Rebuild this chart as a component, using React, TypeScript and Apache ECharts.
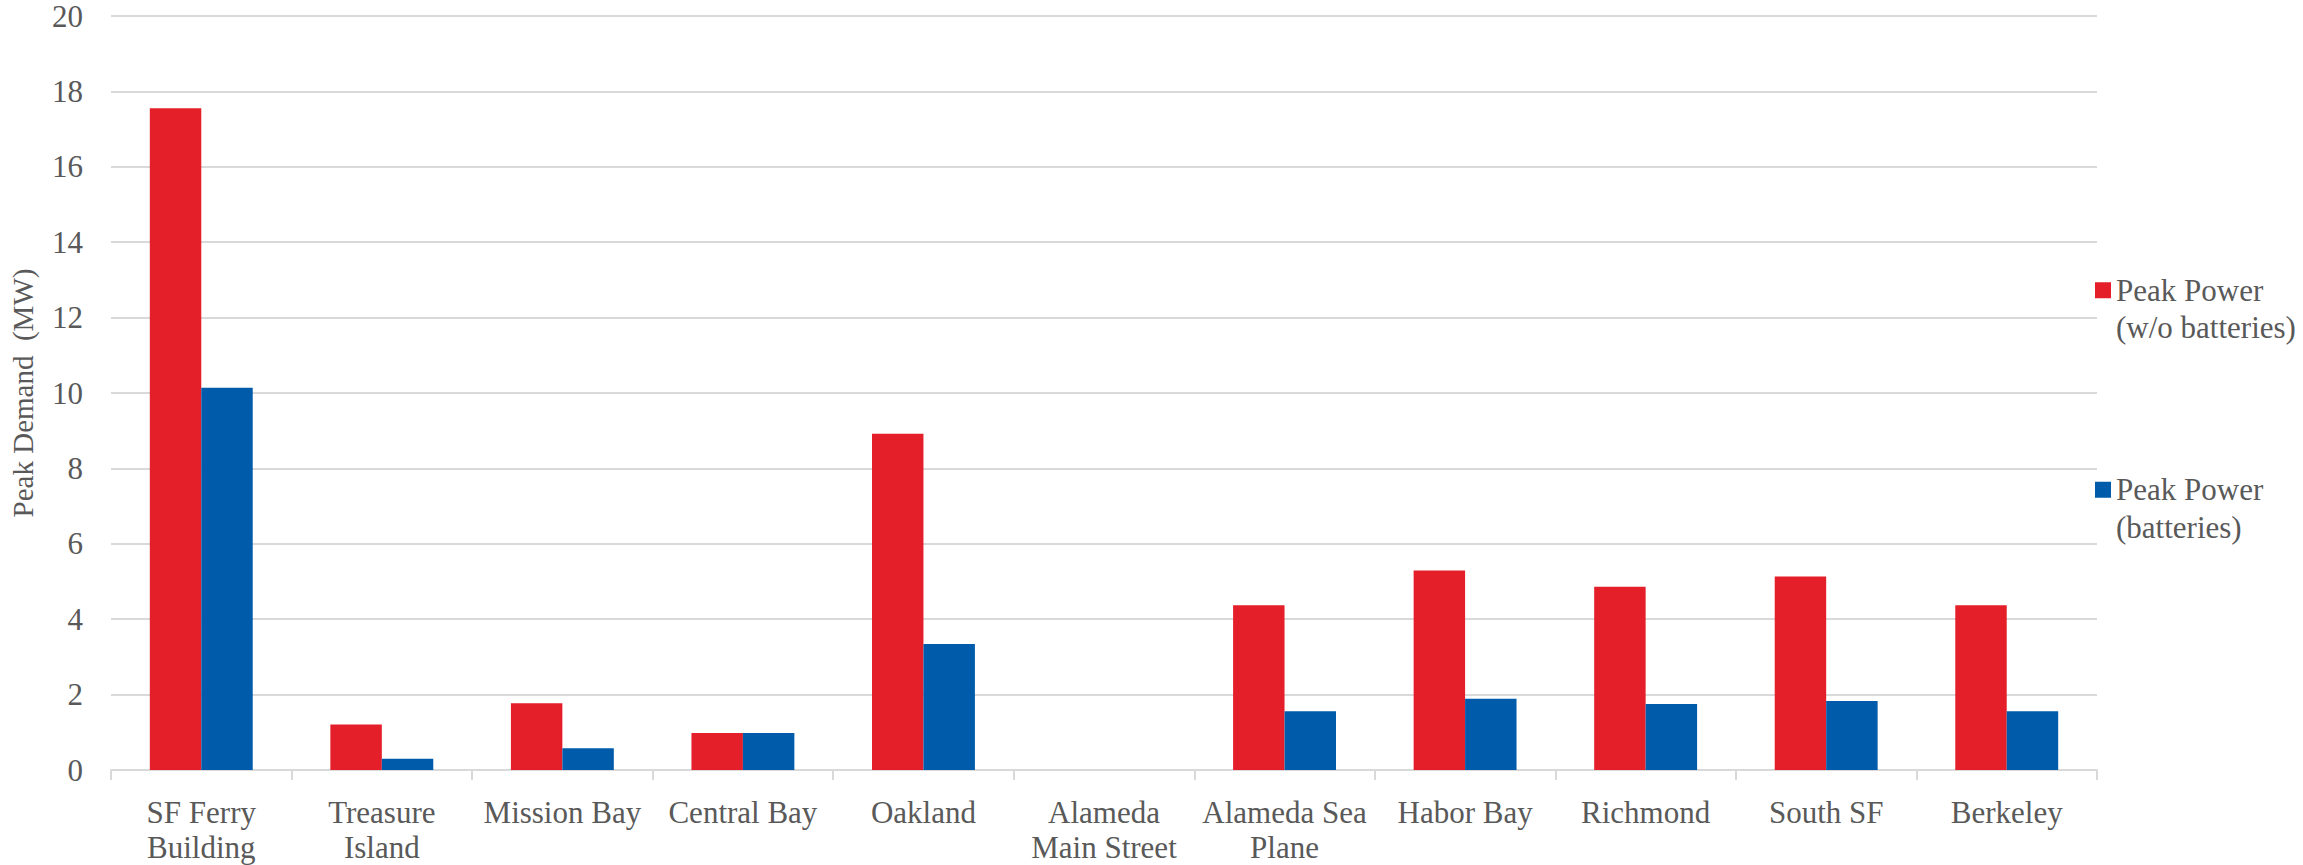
import React, { useEffect, useRef } from "react";
import * as echarts from "echarts";

const categories = [
  "SF Ferry\nBuilding",
  "Treasure\nIsland",
  "Mission Bay",
  "Central Bay",
  "Oakland",
  "Alameda\nMain Street",
  "Alameda Sea\nPlane",
  "Habor Bay",
  "Richmond",
  "South SF",
  "Berkeley",
];

const withoutBatteries = [17.55, 1.21, 1.77, 0.98, 8.92, 0, 4.37, 5.29, 4.86, 5.13, 4.37];
const withBatteries = [10.14, 0.3, 0.58, 0.98, 3.34, 0, 1.56, 1.89, 1.75, 1.83, 1.56];

const seriesNames = ["Peak Power\n(w/o batteries)", "Peak Power\n(batteries)"];
const yAxisTitle = "Peak Demand  (MW)";

const FONT = "'Liberation Serif', 'Times New Roman', serif";
const TEXT = "#595959";

export default function App() {
  const ref = useRef<HTMLDivElement>(null);
  useEffect(() => {
    if (!ref.current) return;
    const chart = echarts.init(ref.current, undefined, { renderer: "svg" });
    chart.setOption({
      animation: false,
      backgroundColor: "#ffffff",
      textStyle: { fontFamily: FONT },
      grid: { left: 100, right: 206, top: 16, bottom: 87, containLabel: false },
      legend: {
        orient: "vertical",
        left: 2095,
        top: 234,
        padding: 0,
        itemGap: 87,
        itemWidth: 16,
        itemHeight: 16,
        icon: "rect",
        data: seriesNames,
        formatter: (n: string) => "\n" + n,
        textStyle: { fontFamily: FONT, fontSize: 31, color: TEXT, lineHeight: 37.5 },
      },
      xAxis: {
        type: "category",
        data: categories,
        axisLine: { lineStyle: { color: "#d9d9d9", width: 2 } },
        axisTick: { show: true, length: 10, lineStyle: { color: "#d9d9d9", width: 2 } },
        axisLabel: {
          interval: 0,
          margin: 25,
          fontFamily: FONT,
          fontSize: 31,
          color: TEXT,
          lineHeight: 35,
        },
      },
      yAxis: {
        type: "value",
        min: 0,
        max: 20,
        interval: 2,
        name: yAxisTitle,
        nameLocation: "middle",
        nameGap: 74,
        nameTextStyle: { fontFamily: FONT, fontSize: 29, color: TEXT },
        axisLine: { show: false },
        axisTick: { show: false },
        axisLabel: { margin: 28, fontFamily: FONT, fontSize: 31, color: TEXT },
        splitLine: { lineStyle: { color: "#d9d9d9", width: 2 } },
      },
      series: [
        {
          name: seriesNames[0],
          type: "bar",
          data: withoutBatteries,
          barGap: "0%",
          barCategoryGap: "43%",
          itemStyle: { color: "#E41F2A" },
        },
        {
          name: seriesNames[1],
          type: "bar",
          data: withBatteries,
          barGap: "0%",
          barCategoryGap: "43%",
          itemStyle: { color: "#005BAA" },
        },
      ],
    });
    return () => chart.dispose();
  }, []);
  return (
    <div
      ref={ref}
      style={{ position: "fixed", left: 0, top: 0, width: 2303, height: 865, background: "#fff" }}
    />
  );
}
